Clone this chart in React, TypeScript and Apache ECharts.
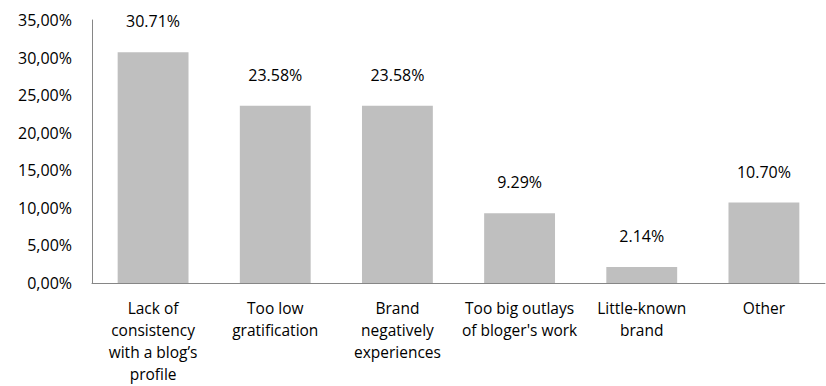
import React, { useEffect, useRef } from "react";
import * as echarts from "echarts";

const categories = [
  "Lack of\nconsistency\nwith a blog\u2019s\nprofile",
  "Too low\ngratification",
  "Brand\nnegatively\nexperiences",
  "Too big outlays\nof bloger's work",
  "Little-known\nbrand",
  "Other",
];
const values = [30.71, 23.58, 23.58, 9.29, 2.14, 10.7];
const valueLabels = ["30.71%", "23.58%", "23.58%", "9.29%", "2.14%", "10.70%"];
const yTicks = [0, 5, 10, 15, 20, 25, 30, 35];

const FONT = "Open Sans";

export default function App() {
  const ref = useRef<HTMLDivElement>(null);
  useEffect(() => {
    if (!ref.current) return;
    const chart = echarts.init(ref.current, null, { renderer: "svg" });
    chart.setOption({
      animation: false,
      grid: { left: 92, right: 1, top: 20, bottom: 103, containLabel: false },
      xAxis: {
        type: "category",
        data: categories,
        axisLine: { show: true, lineStyle: { color: "#868686", width: 1 } },
        axisTick: { show: false },
        axisLabel: {
          interval: 0,
          color: "#000",
          fontFamily: FONT,
          fontSize: 15.5,
          lineHeight: 22,
          margin: 14,
          align: "center",
        },
      },
      yAxis: {
        type: "value",
        min: 0,
        max: yTicks[yTicks.length - 1],
        interval: 5,
        splitLine: { show: false },
        axisLine: { show: true, lineStyle: { color: "#868686", width: 1 } },
        axisTick: { show: false },
        axisLabel: {
          color: "#000",
          fontFamily: FONT,
          fontSize: 16,
          margin: 20,
          formatter: (v: number) => v.toFixed(2).replace(".", ",") + "%",
        },
      },
      series: [
        {
          type: "bar",
          data: values,
          barCategoryGap: "42%",
          itemStyle: { color: "#BFBFBF" },
          label: {
            show: true,
            position: "top",
            distance: 23,
            color: "#000",
            fontFamily: FONT,
            fontSize: 16,
            formatter: (p: any) => valueLabels[p.dataIndex],
          },
        },
      ],
    });
    return () => chart.dispose();
  }, []);
  return <div ref={ref} style={{ width: 826, height: 386, position: "absolute", left: 0, top: 0 }} />;
}
